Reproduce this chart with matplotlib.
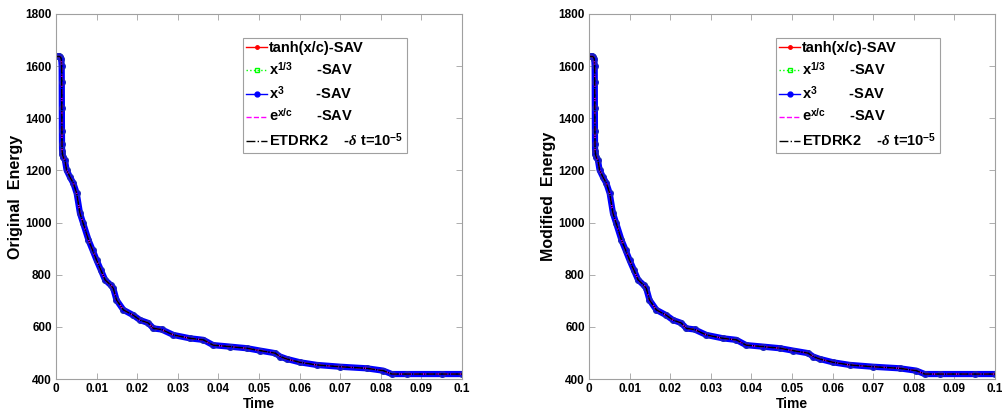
import numpy as np
import matplotlib
matplotlib.use("Agg")
import matplotlib.pyplot as plt

plt.rcParams['font.family'] = ['Liberation Sans', 'DejaVu Sans']
plt.rcParams['font.weight'] = 'bold'
plt.rcParams['mathtext.fontset'] = 'custom'
plt.rcParams['mathtext.rm'] = 'Liberation Sans:bold'
plt.rcParams['mathtext.bf'] = 'Liberation Sans:bold'
plt.rcParams['mathtext.it'] = 'Liberation Serif:italic'

# energy curve (same for every scheme)
time = [0, 0.0004, 0.0008, 0.0011, 0.0013, 0.00140, 0.00142, 0.00144, 0.00146,
        0.00148, 0.0015, 0.0016, 0.0018, 0.0022, 0.0026, 0.0034, 0.0043, 0.0051,
        0.0059, 0.0067, 0.0080, 0.0090, 0.0100, 0.0110, 0.0121, 0.0135, 0.0141,
        0.0149, 0.0166, 0.0190, 0.0207, 0.0227, 0.0240, 0.0260, 0.0289, 0.0330,
        0.0363, 0.0387, 0.0429, 0.0470, 0.0502, 0.0540, 0.0552, 0.0568, 0.0601,
        0.0642, 0.0700, 0.0765, 0.0806, 0.0827, 0.0864, 0.0950, 0.1000]
energy = [1637, 1637, 1637, 1635, 1628, 1600, 1540, 1440, 1350,
          1300, 1275, 1262, 1250, 1240, 1202, 1176, 1150, 1112,
          1036, 997, 933, 895, 856, 820, 780, 760, 748,
          703, 665, 645, 626, 615, 594, 590, 569, 556,
          550, 530, 524, 518, 509, 499, 486, 477, 464,
          454, 447, 441, 432, 419, 419, 419, 419]

labels = [r'tanh(x/c)-SAV',
          r'x$^{\mathrm{1/3}}$      -SAV',
          r'x$^{\mathrm{3}}$        -SAV',
          r'e$^{\mathrm{x/c}}$      -SAV',
          r'ETDRK2    -$\delta$ t=10$^{\mathrm{-5}}$']
ylabels = ['Original  Energy', 'Modified  Energy']
xticks = [0, 0.01, 0.02, 0.03, 0.04, 0.05, 0.06, 0.07, 0.08, 0.09, 0.1]
xticklabels = ['0', '0.01', '0.02', '0.03', '0.04', '0.05', '0.06', '0.07', '0.08', '0.09', '0.1']
yticks = [400, 600, 800, 1000, 1200, 1400, 1600, 1800]

fig = plt.figure(figsize=(10.03, 4.15), dpi=100)
lefts = [56 / 1003, 589 / 1003]

for k in range(2):
    ax = fig.add_axes([lefts[k], 36 / 415, 406 / 1003, 365 / 415])
    ax.plot(time, energy, '-', color='red', marker='.', ms=5, lw=1)
    h2, = ax.plot(time, energy, ':', color='#00ff00', marker='s', ms=3.5,
                  mfc='none', lw=1)
    ax.plot(time, energy, '-', color='blue', lw=4.5, solid_capstyle='round',
            solid_joinstyle='round')
    ax.plot(time, energy, '-', color='blue', marker='o', ms=4, lw=1,
            mec='#2020c0')
    h4, = ax.plot(time, energy, '--', color='magenta', lw=1)
    ax.plot(time, energy, color='black', lw=1.1,
            linestyle=(0, (6, 0.5, 1, 0.5)))
    hb, = ax.plot([], [], '-', color='blue', marker='o', ms=3.5, lw=1)
    hr, = ax.plot([], [], '-', color='red', marker='.', ms=5, lw=1)
    hk, = ax.plot([], [], '-.', color='black', lw=1)

    ax.set_xlim(0, 0.1)
    ax.set_ylim(400, 1800)
    ax.set_xticks(xticks)
    ax.set_xticklabels(xticklabels)
    ax.set_yticks(yticks)
    ax.tick_params(direction='in', length=4, width=0.6, color='#a0a0a0',
                   labelsize=8.5, top=True, right=True, pad=3)
    for lab in ax.get_xticklabels() + ax.get_yticklabels():
        lab.set_fontweight('bold')
    for sp in ax.spines.values():
        sp.set_color('#a0a0a0')
        sp.set_linewidth(0.8)
    ax.set_xlabel('Time', fontsize=10, fontweight='bold', labelpad=1)
    ax.set_ylabel(ylabels[k], fontsize=11.5, fontweight='bold', labelpad=2)

    leg = ax.legend([hr, h2, hb, h4, hk], labels, loc='upper left',
                    bbox_to_anchor=(0.46, 0.935), fontsize=10.5,
                    handlelength=1.4, handletextpad=0.15, labelspacing=0.4,
                    borderpad=0.25, borderaxespad=0, fancybox=False,
                    framealpha=1, edgecolor='#a0a0a0')
    leg.get_frame().set_linewidth(0.8)
    for t in leg.get_texts():
        t.set_fontweight('bold')

fig.savefig('out.png', dpi=100)
